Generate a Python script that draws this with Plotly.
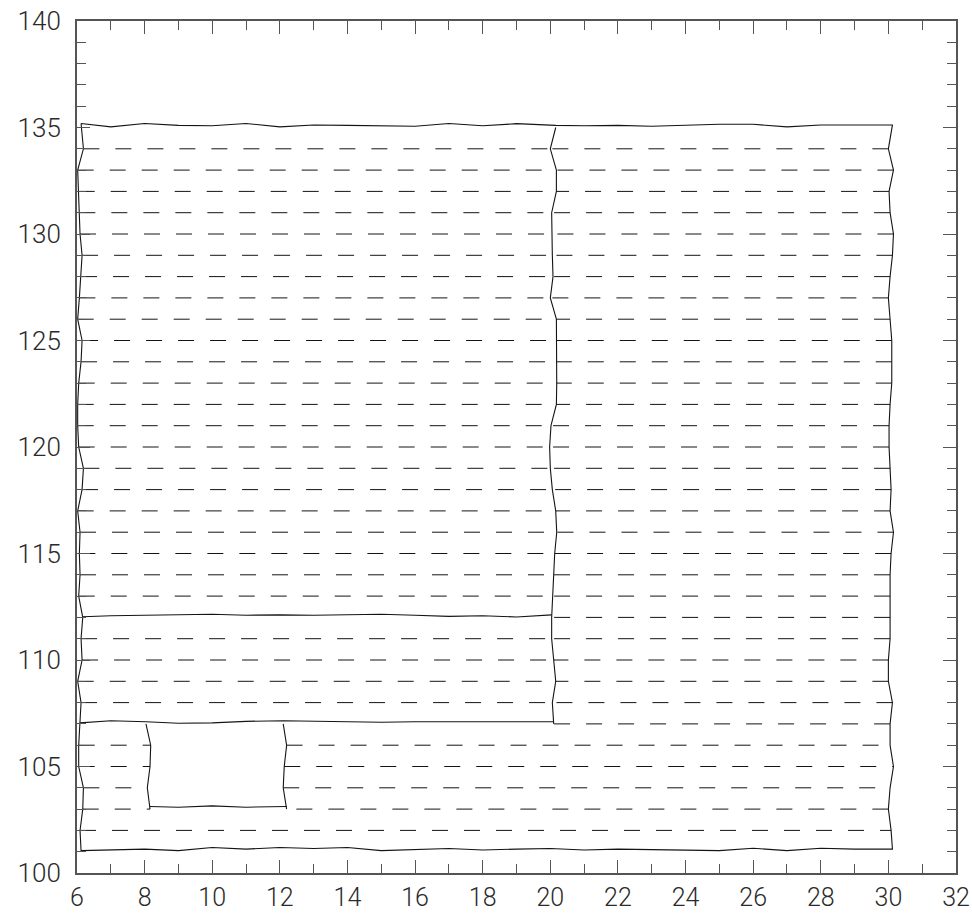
import plotly.graph_objects as go

# ---- mesh rows (one horizontal mesh line per integer y) ----
ROW_Y = list(range(101, 136))

# x of the outer left boundary at y = 101 .. 135
LEFT_X = [6.12, 6.09, 6.17, 6.19, 6.05, 6.05, 6.09, 6.12, 6.02, 6.15,
          6.12, 6.17, 6.05, 6.09, 6.07, 6.09, 6.02, 6.15, 6.19, 6.05,
          6.02, 6.02, 6.05, 6.12, 6.15, 6.02, 6.07, 6.12, 6.15, 6.09,
          6.07, 6.05, 6.02, 6.19, 6.12]

# x of the outer right boundary at y = 101 .. 135
RIGHT_X = [30.12, 30.08, 30.00, 30.05, 30.15, 30.05, 30.05, 30.12, 30.00, 30.00,
           30.05, 30.05, 30.05, 30.05, 30.08, 30.15, 30.05, 30.08, 30.05, 30.02,
           30.02, 30.05, 30.10, 30.10, 30.10, 30.05, 30.00, 30.05, 30.12, 30.15,
           30.05, 30.02, 30.15, 30.00, 30.12]

# internal vertical block boundary, y = 107 .. 135
MID_Y = list(range(107, 136))
MID_X = [20.10, 20.06, 20.16, 20.10, 20.04, 20.04, 20.06, 20.10, 20.13, 20.19,
         20.16, 20.06, 20.00, 19.98, 20.02, 20.18, 20.19, 20.19, 20.19, 20.18,
         20.00, 20.08, 20.06, 20.04, 20.04, 20.18, 20.18, 20.00, 20.16]

# outer top boundary
TOP_X = [6.12, 7, 8, 9, 10, 11, 12, 13, 14, 15, 16, 17, 18, 19, 20.16,
         21, 22, 23, 24, 25, 26, 27, 28, 29, 30.12]
TOP_Y = [135.19, 135.03, 135.19, 135.10, 135.08, 135.19, 135.03, 135.12, 135.10,
         135.08, 135.06, 135.19, 135.08, 135.18, 135.10, 135.08, 135.10, 135.06,
         135.12, 135.15, 135.15, 135.03, 135.12, 135.12, 135.12]

# outer bottom boundary
BOT_X = [6.12, 7, 8, 9, 10, 11, 12, 13, 14, 15, 16, 17, 18, 19, 20,
         21, 22, 23, 24, 25, 26, 27, 28, 29, 30.12]
BOT_Y = [101.05, 101.10, 101.12, 101.05, 101.20, 101.12, 101.20, 101.15, 101.20,
         101.05, 101.10, 101.15, 101.08, 101.12, 101.15, 101.08, 101.12, 101.10,
         101.08, 101.05, 101.16, 101.05, 101.16, 101.12, 101.12]

# internal horizontal block boundary near y = 112
SEP112_X = [6.17, 7, 8, 9, 10, 11, 12, 13, 14, 15, 16, 17, 18, 19, 20.04]
SEP112_Y = [112.03, 112.08, 112.10, 112.12, 112.15, 112.10, 112.12, 112.10,
            112.12, 112.15, 112.10, 112.05, 112.08, 112.02, 112.12]

# internal horizontal block boundary near y = 107 (also top of the hole)
SEP107_X = [6.09, 7, 8.04, 9, 10, 11, 12.10, 13, 14, 15, 16, 17, 18, 19, 20.10]
SEP107_Y = [107.05, 107.15, 107.10, 107.03, 107.05, 107.12, 107.15, 107.12,
            107.10, 107.08, 107.10, 107.10, 107.12, 107.10, 107.10]

# rectangular hole, y = 103 .. 107 on its vertical sides
HOLE_Y = [103, 104, 105, 106, 107]
HOLE_LEFT_X = [8.16, 8.08, 8.16, 8.18, 8.04]
HOLE_RIGHT_X = [12.20, 12.10, 12.13, 12.20, 12.10]
HOLE_BOT_X = [8.16, 9, 10, 11, 12.20]
HOLE_BOT_Y = [103.12, 103.09, 103.15, 103.09, 103.12]

INK = "#141414"
AXIS = "#555555"


def at(xs, ys, y):
    return xs[ys.index(y)]


fig = go.Figure()


def dashed_row(x0, x1, y):
    # interior mesh edge, dash pattern starts at x0
    fig.add_trace(go.Scatter(x=[x0, x1], y=[y, y], mode="lines",
                             line=dict(color=INK, width=1, dash="16px,16px"),
                             hoverinfo="skip", showlegend=False))


def solid(xs, ys):
    fig.add_trace(go.Scatter(x=xs, y=ys, mode="lines",
                             line=dict(color=INK, width=1.1),
                             hoverinfo="skip", showlegend=False))


# left blocks: rows run from the outer left boundary to the vertical boundary
for y in list(range(108, 112)) + list(range(113, 135)):
    dashed_row(at(LEFT_X, ROW_Y, y), at(MID_X, MID_Y, y), y)

# right block: rows run from the outer right boundary inwards
for y in range(107, 135):
    dashed_row(at(RIGHT_X, ROW_Y, y), at(MID_X, MID_Y, y), y)

# bottom strip around the hole
for y in (104, 105, 106):
    dashed_row(at(LEFT_X, ROW_Y, y), at(HOLE_LEFT_X, HOLE_Y, y), y)
    dashed_row(at(HOLE_RIGHT_X, HOLE_Y, y), at(RIGHT_X, ROW_Y, y), y)
dashed_row(at(LEFT_X, ROW_Y, 103), at(HOLE_LEFT_X, HOLE_Y, 103), 103)
dashed_row(at(RIGHT_X, ROW_Y, 103), at(HOLE_RIGHT_X, HOLE_Y, 103), 103)
dashed_row(at(LEFT_X, ROW_Y, 102), at(RIGHT_X, ROW_Y, 102), 102)

# outer boundary
left_ys = ROW_Y[1:-1]
left_xs = LEFT_X[1:-1]
right_ys = ROW_Y[1:-1][::-1]
right_xs = RIGHT_X[1:-1][::-1]
outer_x = TOP_X + right_xs + BOT_X[::-1] + left_xs + [TOP_X[0]]
outer_y = TOP_Y + right_ys + BOT_Y[::-1] + left_ys + [TOP_Y[0]]
solid(outer_x, outer_y)

# internal boundaries
solid(MID_X, MID_Y)
solid(SEP112_X, SEP112_Y)
solid(SEP107_X, SEP107_Y)
solid(HOLE_LEFT_X, HOLE_Y)
solid(HOLE_RIGHT_X, HOLE_Y)
solid(HOLE_BOT_X, HOLE_BOT_Y)

x_font = dict(family="Roboto", size=25, color="#2a2a2a", weight=300)
y_font = dict(family="Roboto", size=26, color="#2a2a2a", weight=300)

fig.update_layout(
    width=972, height=913,
    margin=dict(l=77, r=16, t=21, b=40, autoexpand=False),
    paper_bgcolor="white", plot_bgcolor="white",
    showlegend=False,
    xaxis=dict(range=[6, 32], tick0=6, dtick=2, ticks="inside", ticklen=13,
               tickwidth=1.2, tickcolor=AXIS, showline=True, linecolor=AXIS,
               linewidth=2, mirror="allticks", showgrid=False, zeroline=False,
               automargin=False, tickfont=x_font, ticklabelstandoff=1,
               minor=dict(dtick=1, tick0=6, ticks="inside", ticklen=9,
                          tickwidth=1.2, tickcolor=AXIS, showgrid=False)),
    yaxis=dict(range=[100, 140], tick0=100, dtick=5, ticks="inside", ticklen=13,
               tickwidth=1.2, tickcolor=AXIS, showline=True, linecolor=AXIS,
               linewidth=2, mirror="allticks", showgrid=False, zeroline=False,
               automargin=False, tickfont=y_font, ticklabelstandoff=9,
               minor=dict(dtick=1, tick0=100, ticks="inside", ticklen=9,
                          tickwidth=1.2, tickcolor=AXIS, showgrid=False)),
)

fig.write_html("out.html")
